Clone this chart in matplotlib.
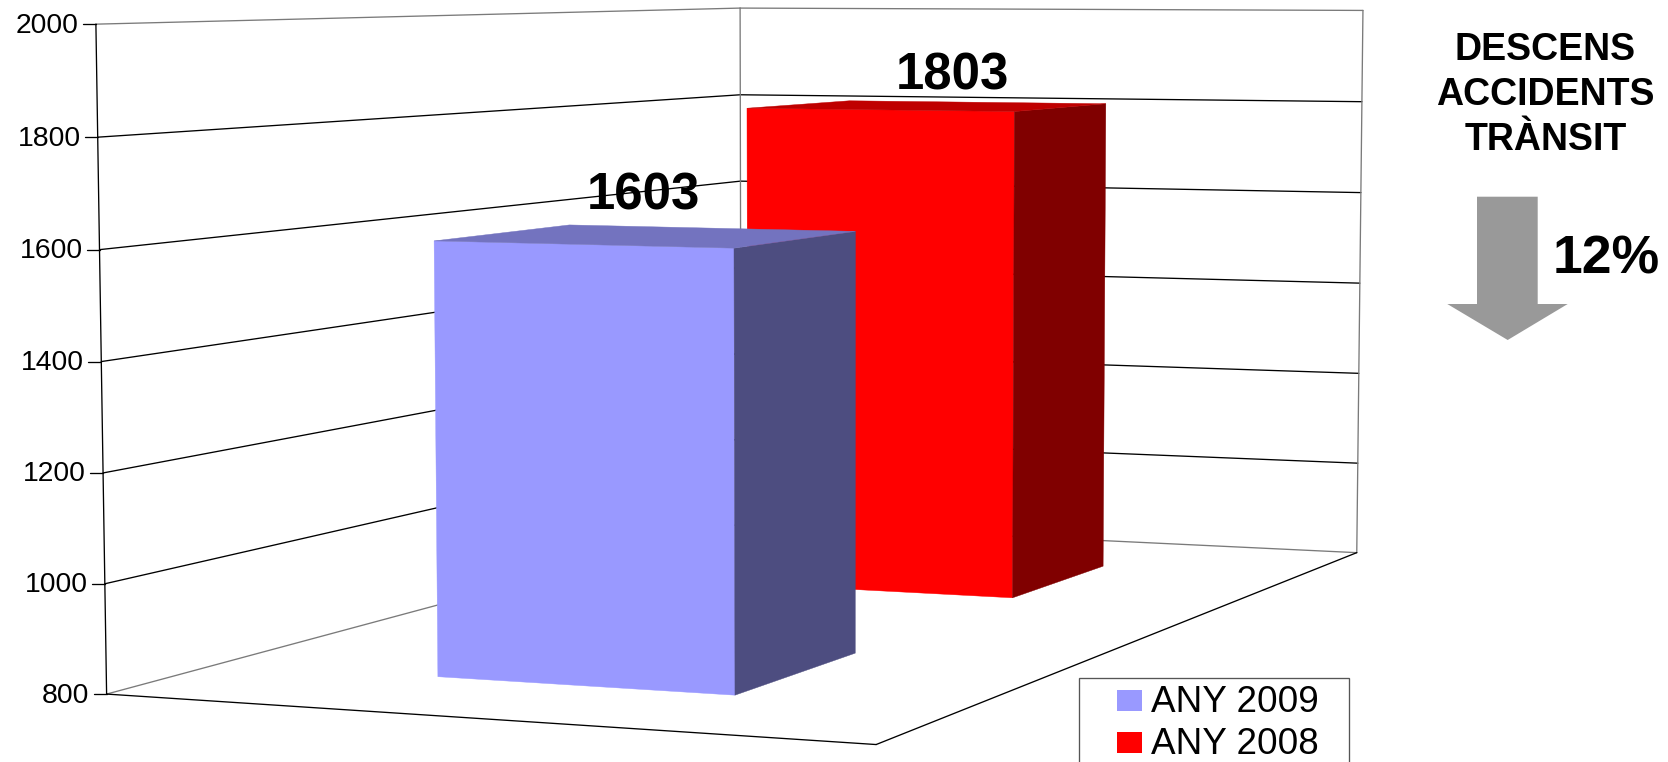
import numpy as np
import matplotlib
matplotlib.use("Agg")
import matplotlib.pyplot as plt
from matplotlib.patches import Polygon, Rectangle

plt.rcParams['font.family'] = ['Liberation Sans', 'DejaVu Sans']

# ---- data ----
series = ['ANY 2009', 'ANY 2008']
values = [1603, 1803]
tick_values = [800, 1000, 1200, 1400, 1600, 1800, 2000]
note_lines = ['DESCENS', 'ACCIDENTS', 'TRÀNSIT']
note_pct = '12%'

# ---- styles ----
face = ['#9999FF', '#FF0000']
side = ['#4D4D80', '#800000']
top = ['#7373BF', '#BF0000']
depths = [(0.145, 0.345), (0.648, 0.846)]
bar_xs = [(0.305, 0.705), (0.304, 0.7035)]
label_pos = [(643.6, 195.5), (952, 75.5)]
VMIN, VMAX = tick_values[0], tick_values[-1]

# ---- perspective camera calibrated on the visible corners of the chart box ----
box = [((0, 0, VMIN), (107.4, 695.7)), ((0, 0, VMAX), (95.7, 23.4)),
       ((1, 0, VMIN), (875.5, 743.6)), ((0, 1, VMIN), (740.4, 522.3)),
       ((0, 1, VMAX), (740.4, 8.5)), ((1, 1, VMIN), (1357.4, 553.2)),
       ((1, 1, VMAX), (1362.8, 10.6))]
A = []
for (x, d, v), (u, w) in box:
    V = (v - VMIN) / (VMAX - VMIN)
    A.append([x, d, V, 1, 0, 0, 0, 0, -u*x, -u*d, -u*V, -u])
    A.append([0, 0, 0, 0, x, d, V, 1, -w*x, -w*d, -w*V, -w])
P = np.linalg.svd(np.array(A))[2][-1].reshape(3, 4)


def proj(x, d, v):
    h = P @ np.array([x, d, (v - VMIN) / (VMAX - VMIN), 1])
    return h[0] / h[2], h[1] / h[2]


fig = plt.figure(figsize=(16.68, 7.62), dpi=100)
ax = fig.add_axes([0, 0, 1, 1])
ax.set_xlim(0, 1668)
ax.set_ylim(762, 0)
ax.axis('off')

LW = 0.95
GREY = '#7A7A7A'


def line(a, b, color='black', lw=LW, z=1):
    ax.plot([a[0], b[0]], [a[1], b[1]], color=color, lw=lw, zorder=z,
            solid_capstyle='round')


# walls and grid
for t in tick_values:
    a, b, c = proj(0, 0, t), proj(0, 1, t), proj(1, 1, t)
    is_floor = t == VMIN
    is_top = t == VMAX
    line(a, b, GREY if (is_floor or is_top) else 'black')
    line(b, c, GREY if (is_floor or is_top) else 'black')
    line((a[0] - 13, a[1]), a)
    ax.text(a[0] - 17, a[1] + 1.5, str(t), ha='right', va='center', fontsize=20.4, color='black')
line(proj(0, 0, VMIN), proj(0, 0, VMAX))
line(proj(0, 1, VMIN), proj(0, 1, VMAX), GREY)
line(proj(1, 1, VMIN), proj(1, 1, VMAX), GREY)
line(proj(0, 0, VMIN), proj(1, 0, VMIN))
line(proj(1, 0, VMIN), proj(1, 1, VMIN))


# bars, back one first
def poly(pts, color, z):
    ax.add_patch(Polygon(pts, closed=True, facecolor=color, edgecolor=color, lw=0.3, zorder=z))


for i in [1, 0]:
    x0, x1 = bar_xs[i]
    d0, d1 = depths[i]
    v = values[i]
    z = 3 if i == 1 else 4
    poly([proj(x0, d0, VMIN), proj(x1, d0, VMIN), proj(x1, d0, v), proj(x0, d0, v)], face[i], z)
    poly([proj(x1, d0, VMIN), proj(x1, d1, VMIN), proj(x1, d1, v), proj(x1, d0, v)], side[i], z)
    poly([proj(x0, d0, v), proj(x1, d0, v), proj(x1, d1, v), proj(x0, d1, v)], top[i], z)
    ax.text(label_pos[i][0], label_pos[i][1], str(v), ha='center', va='center',
            fontsize=36.6, fontweight='bold', color='black', zorder=6)

# note on the right
for s, y in zip(note_lines, [46.5, 91, 136.5]):
    ax.text(1545.5, y, s, ha='center', va='center_baseline', fontsize=27, fontweight='bold', color='black')
ax.text(1606.5, 254.5, note_pct, ha='center', va='center_baseline', fontsize=38.5,
        fontweight='bold', color='black')
ax.add_patch(Polygon([(1477, 196.7), (1537.7, 196.7), (1537.7, 304), (1567.7, 304),
                      (1507.7, 340), (1447.3, 304), (1477, 304)],
                     closed=True, facecolor='#999999', edgecolor='none'))

# legend, cut by the lower edge of the picture
ax.add_patch(Rectangle((1079.5, 678), 269.5, 120, facecolor='white', edgecolor='#555555', lw=LW, zorder=7))
for i, (name, y) in enumerate(zip(series, [690, 732])):
    ax.add_patch(Rectangle((1117, y), 25, 21, facecolor=face[i], edgecolor='none', zorder=8))
    ax.text(1151, y + 22, name, ha='left', va='baseline', fontsize=26.6, color='black', zorder=8)

fig.savefig('out.png', dpi=100)
